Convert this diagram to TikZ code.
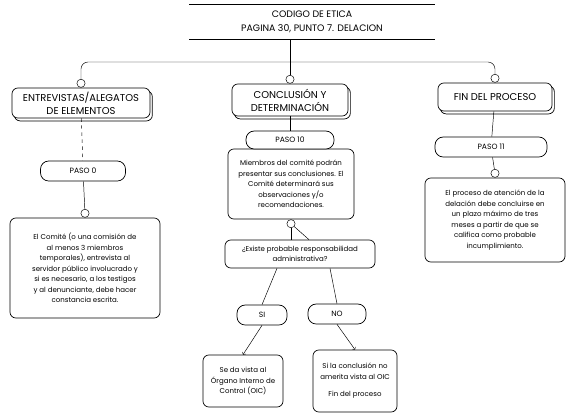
\documentclass[tikz,border=0pt]{standalone}
\usepackage{fontspec}
\setmainfont{Poppins}
\usetikzlibrary{shadows,calc}
\begin{document}
\begin{tikzpicture}[x=0.03cm, y=-0.03cm,
  box/.style={draw, semithick, rounded corners=5pt, fill=white, align=center, inner sep=1pt},
  head/.style={box, copy shadow={shadow xshift=2pt, shadow yshift=-2.5pt}, font=\fontsize{8.5}{11}\selectfont},
  paso/.style={box, rounded corners=7pt, font=\fontsize{6.5}{8}\selectfont},
  txt/.style={box, font=\fontsize{6}{9}\selectfont},
  knob/.style={draw, circle, fill=white, inner sep=0pt, minimum size=7pt}]
  \useasboundingbox (0,0) rectangle (567,419);
  % titulo
  \node[align=center, minimum width=7.35cm, minimum height=1.08cm, font=\fontsize{8}{12}\selectfont] (title) at (312,22) {CODIGO DE ETICA\\PAGINA 30, PUNTO 7. DELACION};
  \draw[double, semithick] (title.north west) -- (title.north east);
  \draw[double, semithick] (title.south west) -- (title.south east);
  % encabezados
  \node[head, minimum width=4.14cm, minimum height=0.9cm] (hL) at (81,103) {ENTREVISTAS/ALEGATOS\\DE ELEMENTOS};
  \node[head, minimum width=3.48cm, minimum height=0.96cm] (hC) at (290,100) {CONCLUSIÓN Y\\DETERMINACIÓN};
  \node[head, minimum width=3.42cm, minimum height=0.84cm] (hR) at (495,97) {FIN DEL PROCESO};
  \node[knob, anchor=south] (kL) at (hL.north) {};
  \node[knob, anchor=south] (kC) at (hC.north) {};
  \node[knob, anchor=south] (kR) at (hR.north) {};
  \coordinate (bus) at (290,62);
  \draw[rounded corners=6pt] (kL) |- (bus) -| (kR);
  \draw (title.south -| kC) -- (kC);
  % columna izquierda
  \node[paso, minimum width=2.55cm, minimum height=0.6cm] (pL) at (83,171) {PASO 0};
  \node[txt, minimum width=4.5cm, minimum height=3cm] (dL) at (85,268) {El Comité (o una comisión de\\al menos 3 miembros\\temporales), entrevista al\\servidor público involucrado y\\si es necesario, a los testigos\\y al denunciante, debe hacer\\constancia escrita.};
  \node[knob, anchor=south] (kL2) at (dL.north) {};
  \draw[dashed] (hL) -- (pL);
  \draw (pL) -- (kL2);
  % columna central
  \node[txt, minimum width=3.78cm, minimum height=2.1cm] (dC) at (291,184) {Miembros del comité podrán\\presentar sus conclusiones. El\\Comité determinará sus\\observaciones y/o\\recomendaciones.};
  \node[paso, minimum width=2.64cm, minimum height=0.54cm] (pC) at (290,140) {PASO 10};
  \draw (hC) -- (pC);
  \node[knob, anchor=north] (kQ) at (dC.south) {};
  \node[txt, minimum width=4.5cm, minimum height=0.84cm] (q) at (300,254) {¿Existe probable responsabilidad\\administrativa?};
  \draw (kQ) -- ($(q.north)+(-9,0)$);
  \draw (kQ) -- ($(q.north)+(9,0)$);
  \node[paso, font=\fontsize{6.5}{8}\selectfont, minimum width=1.5cm, minimum height=0.6cm] (si) at (262,315) {SI};
  \node[paso, font=\fontsize{6.5}{8}\selectfont, minimum width=1.74cm, minimum height=0.6cm] (no) at (337,314) {NO};
  \draw ($(q.south)+(-23,0)$) -- (si.north);
  \draw ($(q.south)+(30,0)$) -- (no.north);
  \node[txt, minimum width=2.4cm, minimum height=1.56cm] (rSI) at (243,381) {Se da vista al\\Órgano Interno de\\Control (OIC)};
  \node[txt, minimum width=2.52cm, minimum height=1.86cm] (rNO) at (355,381) {Si la conclusión no\\amerita vista al OIC\\[6pt]Fin del proceso};
  \draw[->] (si.south) -- (rSI.north);
  \draw[->] (no.south) -- (rNO.north);
  % columna derecha
  \node[paso, minimum width=3.36cm, minimum height=0.6cm] (pR) at (491,147) {PASO 11};
  \node[txt, minimum width=4.2cm, minimum height=2.52cm] (dR) at (495,220) {El proceso de atención de la\\delación debe concluirse en\\un plazo máximo de tres\\meses a partir de que se\\califica como probable\\incumplimiento.};
  \node[knob, anchor=south] (kR2) at (dR.north) {};
  \draw (hR) -- (pR);
  \draw (pR) -- (kR2);
\end{tikzpicture}
\end{document}
